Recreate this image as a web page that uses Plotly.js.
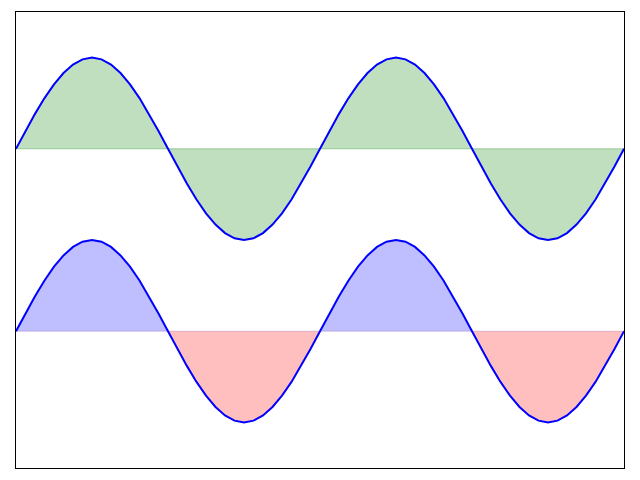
<!DOCTYPE html>
<html>
<head>
<meta charset="utf-8">
<script src="https://cdn.plot.ly/plotly-3.0.1.min.js"></script>
<style>html,body{margin:0;padding:0;background:#fff;}#chart{width:640px;height:480px;}</style>
</head>
<body>
<div id="chart"></div>
<script>
// Sample positions (1/32 of a period each), two full periods
var xSteps = [0,1,2,3,4,5,6,7,8,9,10,11,12,13,14,15,16,17,18,19,20,21,22,23,24,25,26,27,28,29,30,31,
              32,33,34,35,36,37,38,39,40,41,42,43,44,45,46,47,48,49,50,51,52,53,54,55,56,57,58,59,60,61,62,63,64];
// Wave values (amplitude 1)
var waveValues = [0,0.195,0.383,0.556,0.707,0.831,0.924,0.981,1,0.981,0.924,0.831,0.707,0.556,0.383,0.195,
                  0,-0.195,-0.383,-0.556,-0.707,-0.831,-0.924,-0.981,-1,-0.981,-0.924,-0.831,-0.707,-0.556,-0.383,-0.195,
                  0,0.195,0.383,0.556,0.707,0.831,0.924,0.981,1,0.981,0.924,0.831,0.707,0.556,0.383,0.195,
                  0,-0.195,-0.383,-0.556,-0.707,-0.831,-0.924,-0.981,-1,-0.981,-0.924,-0.831,-0.707,-0.556,-0.383,-0.195,0];
var upperBase = 2;
var lowerBase = 0;

var lineColor = '#0000ff';
var traces = [];
var shapeOpt = {shape:'linear'};

// Upper wave: green fill between curve and its baseline
var upperY = waveValues.map(function(v){ return v + upperBase; });
traces.push({x:[xSteps[0], xSteps[xSteps.length-1]], y:[upperBase, upperBase], mode:'lines',
  line:{color:'rgba(0,128,0,0.3)', width:1}, hoverinfo:'skip', showlegend:false});
traces.push({x:xSteps, y:upperY, mode:'lines', fill:'tonexty', fillcolor:'rgba(0,128,0,0.25)',
  line:Object.assign({color:'rgba(0,0,0,0)', width:0}, shapeOpt), hoverinfo:'skip', showlegend:false});

// Lower wave: blue lobes above baseline, red below
var half = 16;
for (var s = 0; s < 4; s++) {
  var xs = xSteps.slice(s*half, s*half+half+1);
  var ys = waveValues.slice(s*half, s*half+half+1).map(function(v){ return v + lowerBase; });
  var positive = (s % 2 === 0);
  traces.push({x:xs, y:ys, mode:'lines', fill:'tozeroy',
    fillcolor: positive ? 'rgba(0,0,255,0.25)' : 'rgba(255,0,0,0.25)',
    line:Object.assign({color:'rgba(0,0,0,0)', width:0}, shapeOpt), hoverinfo:'skip', showlegend:false});
}
traces.push({x:[xSteps[0], xSteps[xSteps.length-1]], y:[lowerBase, lowerBase], mode:'lines',
  line:{color:'rgba(128,0,128,0.2)', width:1}, hoverinfo:'skip', showlegend:false});

// Curves on top
traces.push({x:xSteps, y:upperY, mode:'lines', line:Object.assign({color:lineColor, width:2}, shapeOpt), showlegend:false});
traces.push({x:xSteps, y:waveValues.map(function(v){ return v + lowerBase; }), mode:'lines',
  line:Object.assign({color:lineColor, width:2}, shapeOpt), showlegend:false});

var axisStyle = {showticklabels:false, ticks:'', showgrid:false, zeroline:false,
  showline:true, mirror:true, linecolor:'#000', linewidth:1};

var layout = {
  width:640, height:480,
  margin:{l:16, r:16, t:12, b:12},
  paper_bgcolor:'#fff', plot_bgcolor:'#fff',
  xaxis:Object.assign({range:[0,64]}, axisStyle),
  yaxis:Object.assign({range:[-1.5,3.5]}, axisStyle),
  showlegend:false
};
Plotly.newPlot('chart', traces, layout, {displayModeBar:false, staticPlot:true});
</script>
</body>
</html>
